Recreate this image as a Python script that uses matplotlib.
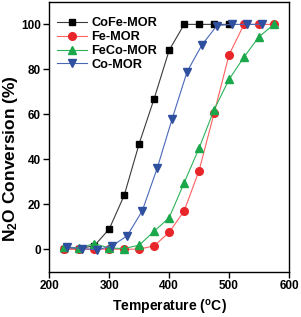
import matplotlib
matplotlib.use("Agg")
import matplotlib.pyplot as plt

plt.rcParams['font.family'] = ['Liberation Sans', 'DejaVu Sans']
plt.rcParams['font.weight'] = 'bold'

# temperatures (C) and N2O conversion (%)
t_cofe = [225, 250, 275, 300, 325, 350, 375, 400, 425, 450, 475, 500]
cofe = [0, 0.3, 1.5, 9, 24, 47, 67, 88.5, 100, 100, 100, 100]

t_fe = [225, 250, 275, 300, 325, 350, 375, 400, 425, 450, 475, 500, 525, 550, 575]
fe = [0, 0, 0, 0, 0, 0, 1.5, 7.5, 17, 35, 60.5, 86.5, 100, 100, 100]

t_feco = [225, 250, 275, 300, 325, 350, 375, 400, 425, 450, 475, 500, 525, 550, 575]
feco = [1, 0.5, 2.5, 0.5, 0.3, 1.8, 8, 14, 29.5, 45, 62, 75.5, 85.5, 94.5, 100]

t_co = [230, 255, 280, 305, 330, 355, 380, 405, 430, 455, 480, 505, 530, 555]
co = [0.8, 0.3, -0.3, 1.5, 6, 17, 36, 58, 79, 91, 99.5, 100, 100, 100]

fig = plt.figure(figsize=(3.01, 3.17), dpi=100)
ax = fig.add_axes([0.164, 0.143, 0.796, 0.851])

ax.plot(t_cofe, cofe, '-s', color='#3a3a3a', mfc='black', mec='black', ms=5, lw=0.8, label='CoFe-MOR')
ax.plot(t_fe, fe, '-o', color='#ff6060', mfc='#e8262a', mec='#e8262a', ms=5.5, lw=0.8, label='Fe-MOR')
ax.plot(t_feco, feco, '-^', color='#2cb35a', mfc='#1aa84b', mec='#1aa84b', ms=6, lw=0.8, label='FeCo-MOR')
ax.plot(t_co, co, '-v', color='#4a68b8', mfc='#2f4f9f', mec='#2f4f9f', ms=6, lw=0.8, label='Co-MOR')

ax.set_xlim(200, 600)
ax.set_ylim(-10, 110)
ax.set_xticks([200, 300, 400, 500, 600])
ax.set_yticks([0, 20, 40, 60, 80, 100])
ax.tick_params(direction='out', length=4, width=1, labelsize=8.5, pad=2)
for s in ax.spines.values():
    s.set_linewidth(1)

ax.set_xlabel('Temperature ($\\mathregular{^oC}$)', fontsize=10, fontweight='bold')
ax.xaxis.set_label_coords(0.5, -0.097)
ax.set_ylabel('N$\\mathregular{_2}$O Conversion (%)', fontsize=12.5, fontweight='bold')
ax.yaxis.set_label_coords(-0.122, 0.418)

ax.legend(loc='upper left', bbox_to_anchor=(0.031, 0.9425), frameon=False,
          fontsize=9.2, handlelength=2.4, borderaxespad=0, borderpad=0,
          labelspacing=0.14, handletextpad=0.3)

fig.savefig('out.png', dpi=100)
